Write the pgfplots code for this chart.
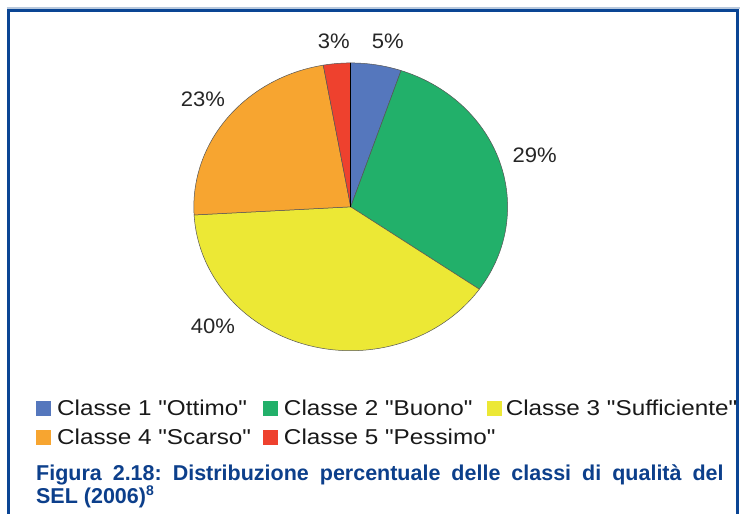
\documentclass[border=0pt]{standalone}
\usepackage{pgfplots}
\pgfplotsset{compat=1.18}
\usepackage{pgfplotstable}
\usepackage{fontspec}
\setmainfont{Liberation Sans}
\newfontfamily\lblfont[FakeStretch=1.05]{Liberation Sans}
\newfontfamily\legfont[FakeStretch=1.13]{Liberation Sans}
\newfontfamily\capfont{Liberation Sans}
\definecolor{cBlue}{HTML}{5577BD}
\definecolor{cGreen}{HTML}{22B06A}
\definecolor{cYellow}{HTML}{ECE835}
\definecolor{cOrange}{HTML}{F7A530}
\definecolor{cRed}{HTML}{EE412E}
\definecolor{frameCol}{HTML}{0A4594}
\definecolor{capCol}{HTML}{0C3F8B}
\definecolor{lightLine}{HTML}{B9C9DD}
\definecolor{edgeCol}{HTML}{555555}

% share of each class (percent), in order from 12 o'clock clockwise
\pgfplotstableread{
v
5.2
29.5
39.4
23.1
2.8
}\piedata

\begin{document}
\frenchspacing
\begin{tikzpicture}
\pgfplotstablegetelem{0}{v}\of\piedata \pgfmathsetmacro\tA{90-3.6*\pgfplotsretval}
\pgfplotstablegetelem{1}{v}\of\piedata \pgfmathsetmacro\tB{\tA-3.6*\pgfplotsretval}
\pgfplotstablegetelem{2}{v}\of\piedata \pgfmathsetmacro\tC{\tB-3.6*\pgfplotsretval}
\pgfplotstablegetelem{3}{v}\of\piedata \pgfmathsetmacro\tD{\tC-3.6*\pgfplotsretval}
\pgfplotstablegetelem{4}{v}\of\piedata \pgfmathsetmacro\tE{\tD-3.6*\pgfplotsretval}
\begin{axis}[hide axis, x=1bp, y=1bp, xmin=-351, xmax=390, ymin=-307, ymax=207, clip=false]
\fill[white] (-351,-307) rectangle (390,207);
% frame
\draw[lightLine, line width=1.2bp] (-344,199) -- (390,199);
\draw[frameCol, line width=3bp, line join=miter] (-342.5,-307) -- (-342.5,196) -- (387.5,196) -- (387.5,-307);
% pie slices
\addplot[fill=cBlue, draw=edgeCol, line width=0.5bp, domain=\tA:90, samples=40, variable=\s] ({157*cos(\s)},{144*sin(\s)}) -- (0,0) -- cycle;
\addplot[fill=cGreen, draw=edgeCol, line width=0.5bp, domain=\tB:\tA, samples=80, variable=\s] ({157*cos(\s)},{144*sin(\s)}) -- (0,0) -- cycle;
\addplot[fill=cYellow, draw=edgeCol, line width=0.5bp, domain=\tC:\tB, samples=100, variable=\s] ({157*cos(\s)},{144*sin(\s)}) -- (0,0) -- cycle;
\addplot[fill=cOrange, draw=edgeCol, line width=0.5bp, domain=\tD:\tC, samples=80, variable=\s] ({157*cos(\s)},{144*sin(\s)}) -- (0,0) -- cycle;
\addplot[fill=cRed, draw=edgeCol, line width=0.5bp, domain=\tE:\tD, samples=20, variable=\s] ({157*cos(\s)},{144*sin(\s)}) -- (0,0) -- cycle;
\draw[black, line width=1bp] (0,0) -- (0,144);
% labels
\node[font={\lblfont\fontsize{21bp}{25bp}\selectfont}, anchor=base, text=black!85] at (37,158) {5\%};
\node[font={\lblfont\fontsize{21bp}{25bp}\selectfont}, anchor=base, text=black!85] at (-17,158) {3\%};
\node[font={\lblfont\fontsize{21bp}{25bp}\selectfont}, anchor=base, text=black!85] at (184,44) {29\%};
\node[font={\lblfont\fontsize{21bp}{25bp}\selectfont}, anchor=base, text=black!85] at (-138,-127) {40\%};
\node[font={\lblfont\fontsize{21bp}{25bp}\selectfont}, anchor=base, text=black!85] at (-148,100) {23\%};
% legend
\fill[cBlue] (-315,-209) rectangle (-300,-194);
\fill[cGreen] (-88,-209) rectangle (-73,-194);
\fill[cYellow] (136,-209) rectangle (151,-194);
\fill[cOrange] (-315,-238) rectangle (-300,-223);
\fill[cRed] (-88,-238) rectangle (-73,-223);
\node[font={\legfont\fontsize{21.5bp}{25bp}\selectfont}, anchor=base west, inner sep=0pt, text=black!90] at (-294,-209) {Classe 1 "Ottimo"};
\node[font={\legfont\fontsize{21.5bp}{25bp}\selectfont}, anchor=base west, inner sep=0pt, text=black!90] at (-67,-209) {Classe 2 "Buono"};
\node[font={\legfont\fontsize{21.5bp}{25bp}\selectfont}, anchor=base west, inner sep=0pt, text=black!90] at (155,-209) {Classe 3 "Sufficiente"};
\node[font={\legfont\fontsize{21.5bp}{25bp}\selectfont}, anchor=base west, inner sep=0pt, text=black!90] at (-294,-238) {Classe 4 "Scarso"};
\node[font={\legfont\fontsize{21.5bp}{25bp}\selectfont}, anchor=base west, inner sep=0pt, text=black!90] at (-67,-238) {Classe 5 "Pessimo"};
% caption
\node[font={\capfont\bfseries\fontsize{21.5bp}{24bp}\selectfont}, anchor=base west, inner sep=0pt, text=capCol] at (-315,-274) {\makebox[688bp][s]{Figura 2.18: Distribuzione percentuale delle classi di qualità del}};
\node[font={\capfont\bfseries\fontsize{21.5bp}{24bp}\selectfont}, anchor=base west, inner sep=0pt, text=capCol] at (-315,-297) {SEL (2006)\raisebox{8bp}{\fontsize{14bp}{14bp}\selectfont 8}};
\end{axis}
\end{tikzpicture}
\end{document}
